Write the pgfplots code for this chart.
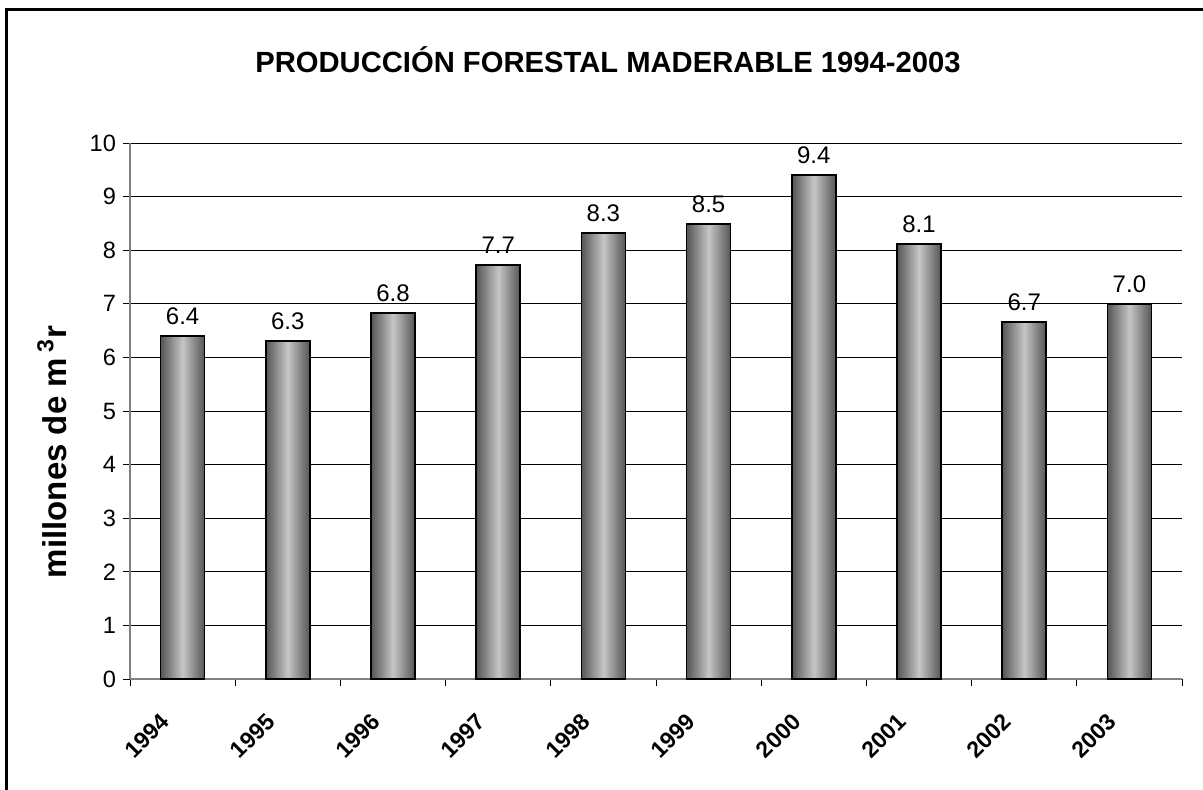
\documentclass[border=0pt]{standalone}
\usepackage{pgfplots}
\pgfplotsset{compat=1.18}
\usepackage{fontspec}
\setmainfont{Liberation Sans}
\definecolor{barDark}{RGB}{85,85,85}
\definecolor{barLight}{RGB}{198,198,198}
\definecolor{axGray}{RGB}{128,128,128}
\pgfplotsset{mybar/.style={draw=black, line width=0.75pt, left color=barDark, right color=barDark, middle color=barLight, bar shift=0pt}}
\begin{document}
\begin{tikzpicture}
\useasboundingbox (0pt,0pt) rectangle (601.5pt,-394.5pt);
\clip (0pt,0pt) rectangle (601.5pt,-394.5pt);
\draw[line width=1.5pt,black] (3.25pt,-410pt) -- (3.25pt,-4.5pt) -- (615pt,-4.5pt);
\node[anchor=base,font=\fontsize{14.6}{17}\selectfont\bfseries] at (304pt,-36pt) {PRODUCCIÓN FORESTAL MADERABLE 1994-2003};
\node[anchor=base,rotate=90,font=\fontsize{16.5}{19}\selectfont\bfseries] at (33pt,-226pt) {millones de m\,\textsuperscript{3}r};
\begin{axis}[
  at={(65pt,-71.5pt)}, anchor=north west,
  scale only axis, width=526pt, height=268pt,
  xmin=-0.5, xmax=9.5, ymin=0, ymax=10,
  axis x line*=bottom, axis y line*=left,
  axis line style={draw=axGray, line width=0.9pt, -},
  ytick={0,1,...,10},
  ymajorgrids, grid style={black, line width=0.5pt},
  xtick={-0.5,0.5,1.5,2.5,3.5,4.5,5.5,6.5,7.5,8.5,9.5},
  xticklabels={},
  extra x ticks={0,1,2,3,4,5,6,7,8,9},
  extra x tick labels={1994,1995,1996,1997,1998,1999,2000,2001,2002,2003},
  extra x tick style={major tick length=0pt, grid=none,
    tick label style={xshift=-11.5pt, yshift=-11.5pt, rotate=45, anchor=north east, font=\fontsize{11.5}{14}\selectfont\bfseries}},
  tick align=outside, major tick length=3.5pt,
  tick style={black, line width=0.5pt},
  /pgf/number format/assume math mode=true,
  yticklabel style={font=\fontsize{11.8}{14}\selectfont, xshift=0pt},
  ybar, bar width=22pt,
  nodes near coords,
  every node near coord/.append style={font=\fontsize{12}{14}\selectfont, /pgf/number format/fixed, /pgf/number format/fixed zerofill, /pgf/number format/precision=1, yshift=2pt},
  clip=false,
]
\addplot[mybar] coordinates {(0,6.40)};
\addplot[mybar] coordinates {(1,6.31)};
\addplot[mybar] coordinates {(2,6.83)};
\addplot[mybar] coordinates {(3,7.72)};
\addplot[mybar] coordinates {(4,8.32)};
\addplot[mybar] coordinates {(5,8.49)};
\addplot[mybar] coordinates {(6,9.40)};
\addplot[mybar] coordinates {(7,8.12)};
\addplot[mybar] coordinates {(8,6.66)};
\addplot[mybar] coordinates {(9,7.00)};
\end{axis}
\end{tikzpicture}
\end{document}
